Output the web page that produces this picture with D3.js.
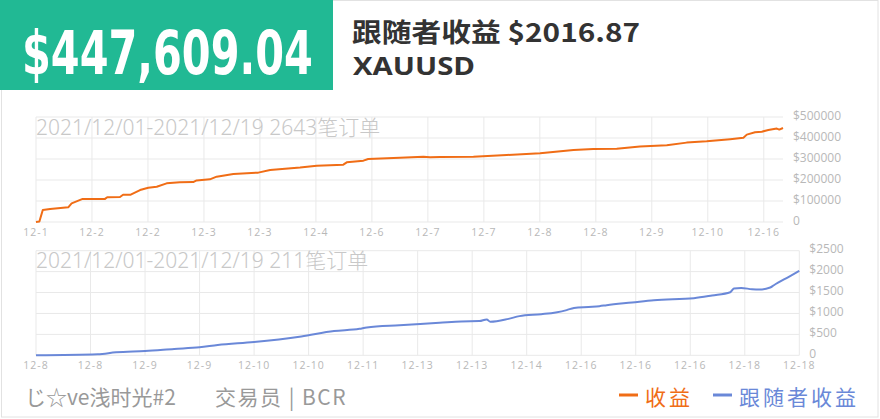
<!DOCTYPE html>
<html><head><meta charset="utf-8">
<script src="https://cdn.jsdelivr.net/npm/d3@7"></script>
<style>
html,body{margin:0;padding:0;background:#fff;}
svg{display:block;}
</style></head>
<body>
<script>
// ---- data ----
const totalProfit = "$447,609.04";
const followerProfitTitle = "跟随者收益 $2016.87";
const symbol = "XAUUSD";
const topTitle = "2021/12/01-2021/12/19 2643笔订单";
const bottomTitle = "2021/12/01-2021/12/19 211笔订单";
const footerLeft = "じ☆ve浅时光#2";
const footerTrader = "交易员 | BCR";
const legendLabels = ["收益", "跟随者收益"];

const topOrders = [0,12,24,50,114,126,165,244,252,297,308,335,368,397,427,462,509,556,568,615,639,698,786,828,934,993,1087,1099,1158,1175,1287,1370,1394,1429,1547,1665,1783,1901,1971,2054,2136,2231,2301,2372,2455,2502,2514,2543,2567,2590,2620,2629,2642];
const topValues = [0,2000,57000,62000,70000,89000,110000,110000,118000,119000,130000,130000,152000,163000,168000,184000,189000,190000,198000,203000,216000,229000,235000,248000,259000,268000,273000,284000,292000,300000,306000,311000,308000,309000,311000,319000,327000,343000,348000,349000,359000,365000,378000,384000,394000,401000,416000,427000,430000,438000,445000,440000,447609];
const topTickLabels = ["12-1","12-2","12-2","12-3","12-3","12-4","12-6","12-7","12-7","12-8","12-8","12-9","12-10","12-16"];
const topYTicks = [0,100000,200000,300000,400000,500000];

const botOrders = [0,17,22,30,38,45,50,60,73,82,89,91,100,111,117,122,124,125,130,133,139,143,146,148,152,155,157,164,170,181,186,191,192,194,197,199,202,203,207,210];
const botValues = [0,24,71,102,150,190,245,317,452,579,633,667,721,776,810,817,857,800,871,936,983,1024,1079,1133,1157,1174,1198,1262,1317,1364,1429,1507,1595,1610,1579,1571,1619,1674,1871,2016.87];
const botTickLabels = ["12-8","12-8","12-9","12-9","12-10","12-10","12-11","12-13","12-13","12-14","12-16","12-16","12-16","12-18","12-18"];
const botYTicks = [0,500,1000,1500,2000,2500];

// ---- drawing ----
const W = 880, H = 419;
const svg = d3.select("body").append("svg").attr("width", W).attr("height", H);
const CJK = "'Noto Sans CJK SC','Noto Sans',sans-serif";
const LAT = "'Noto Sans','Noto Sans CJK SC',sans-serif";
const orange = "#f06d16", blue = "#6a88d8", grid = "#e9e9e9", axisText = "#b8b8b8";

svg.append("rect").attr("x",1.5).attr("y",0.5).attr("width",876.5).attr("height",416.5)
  .attr("fill","#fff").attr("stroke","#e2e2e2");

// header
svg.append("rect").attr("x",0).attr("y",0).attr("width",333).attr("height",90).attr("fill","#21b994");
const big = svg.append("text").text(totalProfit)
  .attr("fill","#fff").attr("font-family","'DejaVu Sans Condensed','DejaVu Sans',sans-serif")
  .attr("font-weight","bold").attr("font-size",60);
const bw = big.node().getComputedTextLength();
big.attr("transform",`translate(22,74) scale(${291/bw},1)`);
svg.append("text").attr("x",352).attr("y",41.5).text(followerProfitTitle)
  .attr("fill","#333").attr("font-family",CJK).attr("font-weight","bold").attr("font-size",26)
  .attr("textLength",288).attr("lengthAdjust","spacingAndGlyphs");
svg.append("text").attr("x",353).attr("y",75).text(symbol)
  .attr("fill","#333").attr("font-family","'Open Sans',sans-serif").attr("font-weight","bold").attr("font-size",24.5)
  .attr("textLength",122).attr("lengthAdjust","spacingAndGlyphs");

function panel(cfg){
  const x = d3.scaleLinear().domain(cfg.xDomain).range([36, cfg.right]);
  const y = d3.scaleLinear().domain([0, cfg.yMax]).range([cfg.bottom, cfg.top]);
  const g = svg.append("g");
  g.selectAll(".hg").data(cfg.yTicks).join("line")
    .attr("x1",36).attr("x2",cfg.right).attr("y1",d=>y(d)).attr("y2",d=>y(d))
    .attr("stroke",grid).attr("stroke-width",1);
  const tickVals = cfg.tickLabels.map((_,i)=>i*cfg.tickStep);
  g.selectAll(".vg").data(tickVals).join("line")
    .attr("x1",d=>x(d)).attr("x2",d=>x(d)).attr("y1",cfg.top).attr("y2",cfg.bottom)
    .attr("stroke",grid).attr("stroke-width",1);
  g.selectAll(".xl").data(cfg.tickLabels).join("text")
    .attr("x",(d,i)=>x(i*cfg.tickStep)).attr("y",cfg.bottom+14)
    .attr("text-anchor","middle").attr("font-family","'Open Sans',sans-serif")
    .attr("font-size",10.5).attr("letter-spacing",1).attr("fill",axisText).text(d=>d);
  g.selectAll(".yl").data(cfg.yTicks).join("text")
    .attr("x",cfg.right+10).attr("y",d=>y(d)).attr("dy","0.22em")
    .attr("font-family","'Open Sans',sans-serif").attr("font-size",12)
    .attr("fill",axisText).text(d=> d===0 ? "0" : "$"+d);
  g.append("text").attr("x",36).attr("y",cfg.titleY).text(cfg.title)
    .attr("font-family",LAT).attr("font-weight",300).attr("font-size",21).attr("fill","#c8c8c8");
  const line = d3.line().x((d,i)=>x(cfg.xs[i])).y(d=>y(d)).curve(cfg.curve);
  g.append("path").datum(cfg.ys).attr("d",line).attr("fill","none")
    .attr("stroke",cfg.color).attr("stroke-width",2).attr("stroke-linejoin","round");
}

panel({xDomain:[0,2642], right:783, top:117, bottom:222, yMax:500000, yTicks:topYTicks,
  tickLabels:topTickLabels, tickStep:198, title:topTitle, titleY:135,
  xs:topOrders, ys:topValues, color:orange, curve:d3.curveLinear});
panel({xDomain:[0,210], right:799.3, top:250.7, bottom:355.3, yMax:2500, yTicks:botYTicks,
  tickLabels:botTickLabels, tickStep:15, title:bottomTitle, titleY:268,
  xs:botOrders, ys:botValues, color:blue, curve:d3.curveMonotoneX});

// footer
svg.append("text").attr("x",25).attr("y",405).text(footerLeft)
  .attr("font-family",CJK).attr("font-size",21).attr("fill","#999");
svg.append("text").attr("x",215).attr("y",405).text(footerTrader)
  .attr("font-family",CJK).attr("font-size",21).attr("letter-spacing",1.5).attr("fill","#999");
const legendX = [619, 713], legendColors = [orange, blue];
legendLabels.forEach((t,i)=>{
  svg.append("line").attr("x1",legendX[i]).attr("x2",legendX[i]+19).attr("y1",395).attr("y2",395)
    .attr("stroke",legendColors[i]).attr("stroke-width",3);
  svg.append("text").attr("x",legendX[i]+26).attr("y",405).text(t)
    .attr("font-family",CJK).attr("font-size",21).attr("letter-spacing",3).attr("fill",legendColors[i]);
});
</script>
</body></html>
